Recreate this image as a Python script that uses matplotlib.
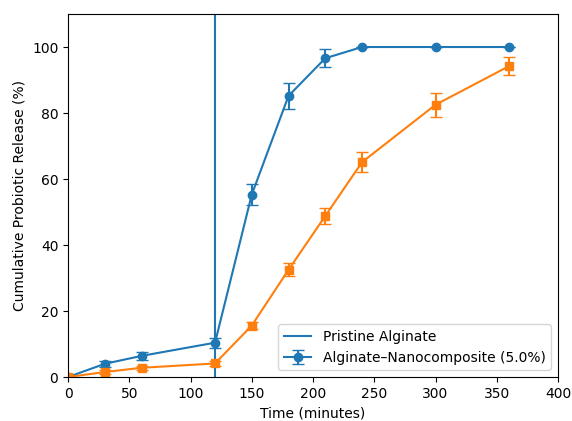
import matplotlib
matplotlib.use("Agg")
import matplotlib.pyplot as plt

time_min = [0, 30, 60, 120, 150, 180, 210, 240, 300, 360]

# Alginate-Nanocomposite (5.0%)
nano_release = [0, 4.0, 6.4, 10.4, 55.3, 85.2, 96.6, 100, 100, 100]
nano_err = [0, 1.0, 1.2, 1.5, 3.3, 3.9, 2.7, 0, 0, 0]

# Pristine Alginate
pristine_release = [0, 1.5, 2.8, 4.1, 15.6, 32.5, 48.8, 65.1, 82.5, 94.2]
pristine_err = [0, 0.5, 0.6, 0.8, 1.1, 2.0, 2.5, 3.1, 3.6, 2.8]

switch_time = 120

fig = plt.figure(figsize=(5.72, 4.21), dpi=100)
ax = fig.add_axes([0.119, 0.1045, 0.8565, 0.8622])

vline = ax.axvline(switch_time, color="tab:blue")
nano = ax.errorbar(time_min, nano_release, yerr=nano_err, marker="o",
                   color="tab:blue", capsize=4)
ax.errorbar(time_min, pristine_release, yerr=pristine_err, marker="s",
            color="tab:orange", capsize=4)

ax.set_xlim(0, 400)
ax.set_ylim(0, 110)
ax.set_xlabel("Time (minutes)")
ax.set_ylabel("Cumulative Probiotic Release (%)")
ax.legend([vline, nano], ["Pristine Alginate", "Alginate\u2013Nanocomposite (5.0%)"],
          loc="lower right")

fig.savefig("out.png", dpi=100)
